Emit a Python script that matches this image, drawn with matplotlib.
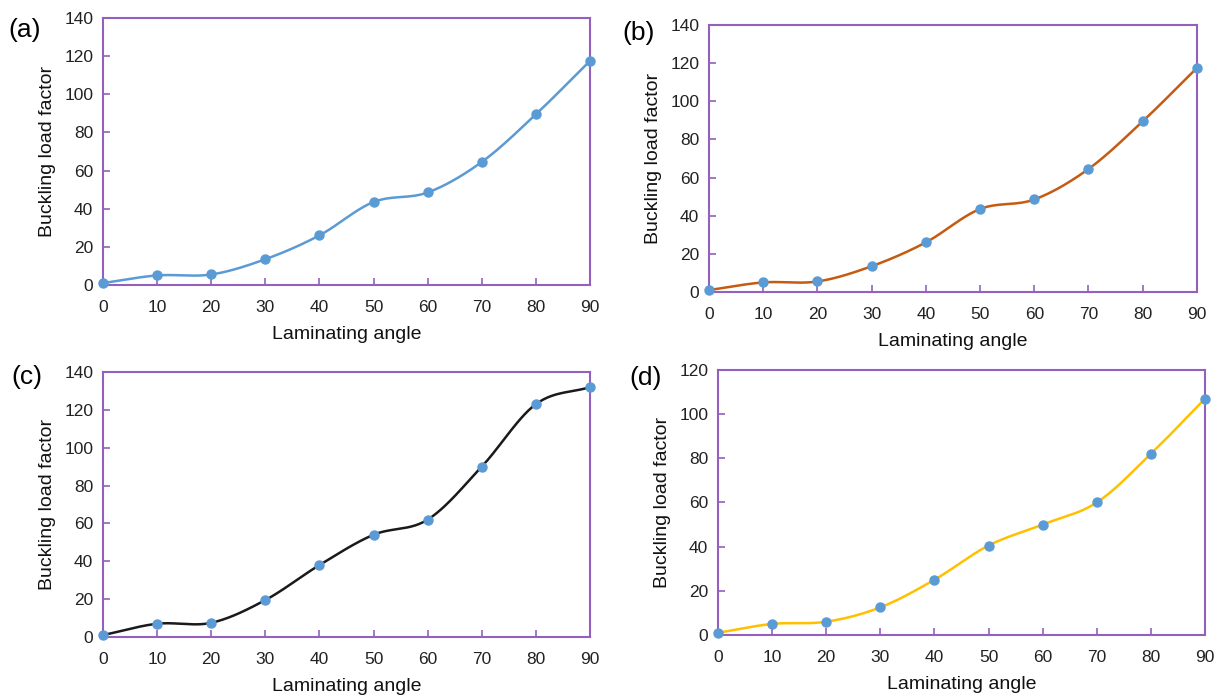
import numpy as np
import matplotlib
matplotlib.use("Agg")
import matplotlib.pyplot as plt

plt.rcParams["font.family"] = ["Liberation Sans", "DejaVu Sans"]

ANGLES = [0, 10, 20, 30, 40, 50, 60, 70, 80, 90]
LOAD_A = [1, 5, 5.5, 13.5, 26, 43.5, 48.5, 64.5, 89.5, 117.5]
LOAD_B = [1, 5, 5.5, 13.5, 26, 43.5, 48.5, 64.5, 89.5, 117.5]
LOAD_C = [1, 7, 7.5, 19.5, 38, 54, 62, 90, 123, 132]
LOAD_D = [1, 5, 6, 12.5, 25, 40.5, 50, 60, 82, 107]
LETTERS = ["(a)", "(b)", "(c)", "(d)"]
YMAX = [140, 140, 140, 120]
LINE_COLORS = ["#5B9BD5", "#C55A11", "#1A1A1A", "#FFC000"]
MARKER = "#5B9BD5"
FRAME = "#9460BE"

# axes rectangles (fig fraction) and letter positions
RECTS = [(0.0844, 0.5929, 0.3992, 0.3814), (0.5811, 0.5829, 0.4000, 0.3814),
         (0.0844, 0.0900, 0.3992, 0.3786), (0.5885, 0.0929, 0.3992, 0.3786)]
LETTER_POS = [(0.007, 0.957), (0.510, 0.953), (0.009, 0.461), (0.516, 0.460)]


def smooth(x, y, n=30):
    # Catmull-Rom through the points, like a spreadsheet "smoothed line"
    x = np.asarray(x, float); y = np.asarray(y, float)
    px = np.r_[2 * x[0] - x[1], x, 2 * x[-1] - x[-2]]
    py = np.r_[2 * y[0] - y[1], y, 2 * y[-1] - y[-2]]
    xs, ys = [], []
    t = np.linspace(0, 1, n)
    for i in range(1, len(px) - 2):
        for p, out in ((px, xs), (py, ys)):
            p0, p1, p2, p3 = p[i - 1], p[i], p[i + 1], p[i + 2]
            out.append(0.5 * (2 * p1 + (-p0 + p2) * t + (2 * p0 - 5 * p1 + 4 * p2 - p3) * t ** 2
                              + (-p0 + 3 * p1 - 3 * p2 + p3) * t ** 3))
    return np.concatenate(xs), np.concatenate(ys)


fig = plt.figure(figsize=(12.2, 7.0), dpi=100)
for i, loads in enumerate([LOAD_A, LOAD_B, LOAD_C, LOAD_D]):
    ax = fig.add_axes(RECTS[i])
    sx, sy = smooth(ANGLES, loads)
    ax.plot(sx, sy, color=LINE_COLORS[i], lw=1.8, zorder=2)
    ax.plot(ANGLES, loads, "o", color=MARKER, ms=6.5, zorder=3, clip_on=False)
    ax.set_xlim(0, 90); ax.set_ylim(0, YMAX[i])
    ax.set_xticks(ANGLES); ax.set_yticks(np.arange(0, YMAX[i] + 1, 20))
    for s in ax.spines.values():
        s.set_color(FRAME); s.set_linewidth(1.5)
    ax.tick_params(direction="in", length=5, width=1.2, color=FRAME,
                   labelsize=12.5, labelcolor="#222222", pad=7)
    ax.tick_params(axis="x", pad=11)
    ax.set_xlabel("Laminating angle", fontsize=14, labelpad=8, color="#111111")
    ax.set_ylabel("Buckling load factor", fontsize=14, labelpad=6, color="#111111")
    fig.text(*LETTER_POS[i], LETTERS[i], fontsize=19, ha="left", va="center")

fig.savefig("out.png", dpi=100)
